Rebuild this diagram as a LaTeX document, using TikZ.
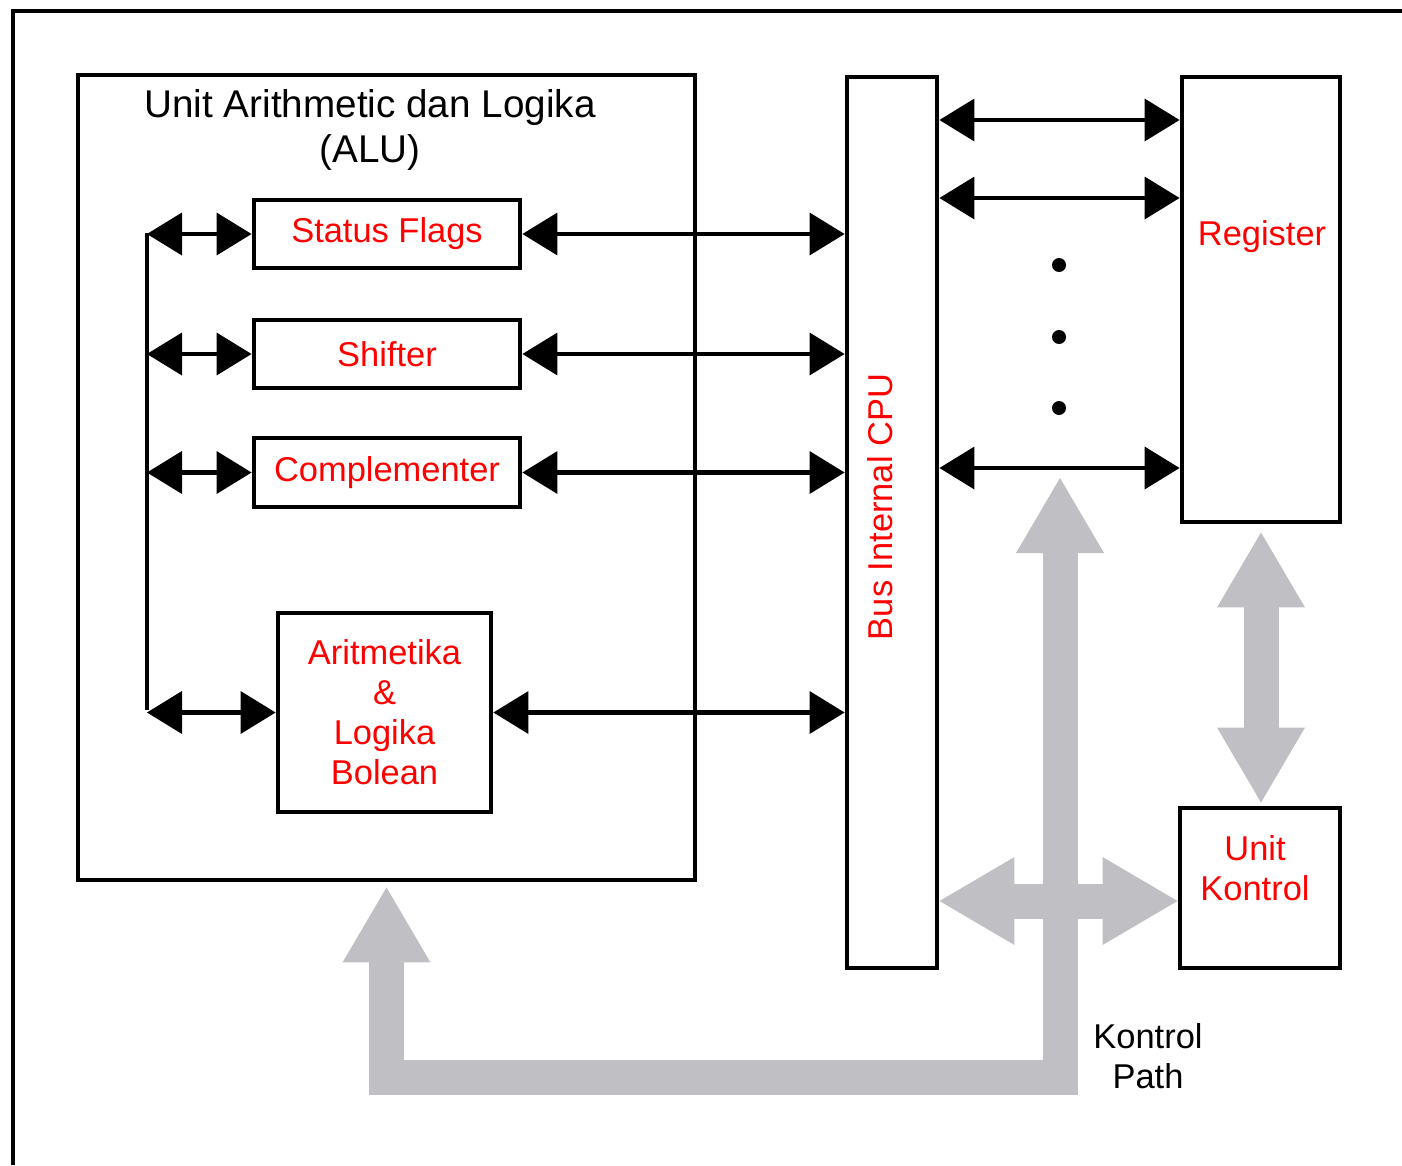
\documentclass[tikz,border=0pt]{standalone}
\usepackage{fontspec}
\setmainfont{Liberation Sans}
\usetikzlibrary{arrows.meta, positioning, calc}
\definecolor{pathgrey}{RGB}{192,191,195}

\tikzset{
  unitbox/.style={draw, line width=1.4pt, inner sep=0pt},
  redtext/.style={text=red, align=center},
  databus/.style={line width=1.15pt,
    {Triangle[length=3.5mm,width=4.3mm,line width=0pt]}-{Triangle[length=3.5mm,width=4.3mm,line width=0pt]}},
  ctrlpath/.style={draw=pathgrey, line width=3.5mm, line join=miter,
    {Triangle[length=7.5mm,width=8.8mm,line width=0pt]}-{Triangle[length=7.5mm,width=8.8mm,line width=0pt]}}
}

\begin{document}
\begin{tikzpicture}[x=0.1mm, y=-0.1mm, font=\fontsize{9.8pt}{11.4pt}\selectfont]
\useasboundingbox (0,0) rectangle (1402,1165);

% --- cornice esterna
\draw[line width=1.15pt] (13,1165) -- (13,11) -- (1402,11);

% --- ALU
\node[unitbox, minimum width=61.7mm, minimum height=80.5mm] (alu) at (386.5,477.5) {};
\node[align=center, font=\fontsize{11pt}{12.8pt}\selectfont] (alutitle) at (370,130) {Unit Arithmetic dan Logika\\(ALU)};

\node[unitbox, redtext, minimum width=26.6mm, minimum height=6.8mm] (flags) at (387,234) {Status Flags};
\node[unitbox, redtext, minimum width=26.6mm, minimum height=6.8mm] (shift) at (387,354) {Shifter};
\node[unitbox, redtext, minimum width=26.6mm, minimum height=6.9mm] (compl) at (387,472.5) {Complementer};
\node[unitbox, redtext, minimum width=21.3mm, minimum height=19.9mm] (arith) at (384.5,712.5) {Aritmetika\\\&\\Logika\\Bolean};

% --- bus interno della ALU
\coordinate (ltop) at (147,233);
\coordinate (lbot) at (147,710);
\draw[line width=1.15pt] (ltop) -- (lbot);

% --- Bus Internal CPU
\node[unitbox, minimum width=9mm, minimum height=89.1mm] (bus) at (892,522.5) {};
\node[redtext, rotate=90] (buslabel) at (880,507) {Bus Internal CPU};

\foreach \blk in {flags, shift, compl, arith} {
  \draw[databus] (ltop |- \blk.west) -- (\blk.west);
  \draw[databus] (\blk.east) -- (\blk.east -| bus.west);
}

% --- Register
\node[unitbox, minimum width=15.8mm, minimum height=44.5mm] (reg) at (1261,299.5) {};
\node[redtext] (reglabel) at (1262,237) {Register};

\foreach \yy [count=\i] in {120,198,468} {
  \coordinate (r\i) at (reg.west |- 0,\yy);
  \draw[databus] (bus.east |- r\i) -- (r\i);
}
\foreach \yy in {265,337,408}
  \fill (1059,\yy) circle (0.7mm);

% --- Unit Kontrol
\node[unitbox, minimum width=16mm, minimum height=16mm] (ctrl) at (1260,888) {};
\node[redtext] (ctrllabel) at (1255,868) {Unit\\Kontrol};

% --- Kontrol Path
\coordinate (kp) at (1060,478);
\draw[ctrlpath] ([yshift=-0.5mm]alu.south) -- ++(0,190) -| (kp);
\draw[ctrlpath] (bus.east |- 0,901) -- (ctrl.west |- 0,901);
\draw[ctrlpath, shorten <=0.8mm, shorten >=0.3mm] (reg.south) -- (reg.south |- ctrl.north);
\node[align=center] (kplabel) at (1148,1056) {Kontrol\\Path};
\end{tikzpicture}
\end{document}
